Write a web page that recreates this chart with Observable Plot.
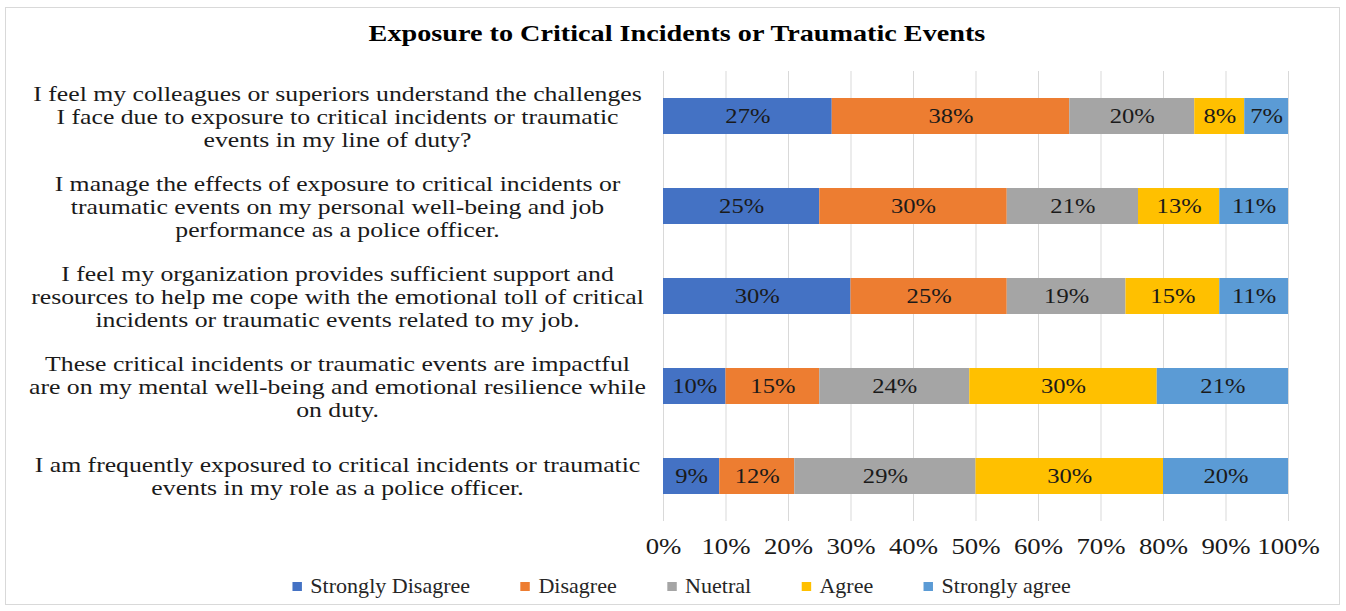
<!DOCTYPE html>
<html><head><meta charset="utf-8">
<script src="https://cdn.jsdelivr.net/npm/d3@7"></script>
<script src="https://cdn.jsdelivr.net/npm/@observablehq/plot@0.6"></script>
<style>
body{margin:0;background:#fff;font-family:"Liberation Serif","Times New Roman",serif;}
#wrap{position:relative;width:1346px;height:611px;overflow:hidden;}
#frame{position:absolute;left:5px;top:7px;width:1335px;height:598px;border:1px solid #d9d9d9;box-sizing:border-box;}
#title{position:absolute;left:0;width:1354px;top:20px;text-align:center;}
#title span{display:inline-block;font-weight:bold;font-size:23.5px;color:#000;transform:scaleX(1.2);transform-origin:50% 50%;}
#chart{position:absolute;left:0;top:55px;}
#legend{position:absolute;left:0;width:1364px;top:574px;text-align:center;white-space:nowrap;}
#legend .inner{display:inline-block;font-size:21px;color:#262626;transform:scaleX(1.05);transform-origin:50% 50%;}
#legend .item{display:inline-block;margin:0 24px;}
#legend .sw{display:inline-block;width:9px;height:9px;margin-right:8px;vertical-align:middle;position:relative;top:-2px;}
</style></head>
<body>
<div id="wrap">
  <div id="frame"></div>
  <div id="title"><span>Exposure to Critical Incidents or Traumatic Events</span></div>
  <div id="chart"></div>
  <div id="legend"><div class="inner"></div></div>
</div>
<script>
const categories = ["Strongly Disagree", "Disagree", "Nuetral", "Agree", "Strongly agree"];
const colors = ["#4472C4", "#ED7D31", "#A5A5A5", "#FFC000", "#5B9BD5"];
const questions = [
  "I feel my colleagues or superiors understand the challenges\nI face due to exposure to critical incidents or traumatic\nevents in my line of duty?",
  "I manage the effects of exposure to critical incidents or\ntraumatic events on my personal well-being and job\nperformance as a police officer.",
  "I feel my organization provides sufficient support and\nresources to help me cope with the emotional toll of critical\nincidents or traumatic events related to my job.",
  "These critical incidents or traumatic events are impactful\nare on my mental well-being and emotional resilience while\non duty.",
  "I am frequently exposured to critical incidents or traumatic\nevents in my role as a police officer."
];
const stronglyDisagree = [27, 25, 30, 10, 9];
const disagree = [38, 30, 25, 15, 12];
const nuetral = [20, 21, 19, 24, 29];
const agree = [8, 13, 15, 30, 30];
const stronglyAgree = [7, 11, 11, 21, 20];
const xTicks = [0, 10, 20, 30, 40, 50, 60, 70, 80, 90, 100];

const seriesValues = [stronglyDisagree, disagree, nuetral, agree, stronglyAgree];
const rows = [];
questions.forEach((q, i) => {
  categories.forEach((c, j) => rows.push({q, cat: c, value: seriesValues[j][i]}));
});

const chart = Plot.plot({
  width: 1346,
  height: 515,
  marginLeft: 663,
  marginRight: 58,
  marginTop: 16,
  marginBottom: 49,
  style: {fontFamily: "'Liberation Serif', 'Times New Roman', serif", color: "#262626", background: "transparent"},
  x: {domain: [0, 100], label: null},
  y: {domain: questions, paddingInner: 0.6, paddingOuter: 0.3, label: null},
  color: {domain: categories, range: colors},
  marks: [
    Plot.gridX(xTicks, {stroke: "#d9d9d9", strokeOpacity: 1, strokeWidth: 1}),
    Plot.barX(rows, Plot.stackX({x: "value", y: "q", fill: "cat", order: categories})),
    Plot.text(rows, Plot.stackX({x: "value", y: "q", z: "cat", order: categories,
      text: d => d.value + "%", fontSize: 21, fill: "#1a1a1a", className: "barvals"})),
    Plot.axisX(xTicks, {tickSize: 0, tickPadding: 16, fontSize: 23.5, tickFormat: d => d + "%", label: null, fill: "#1a1a1a"}),
    Plot.axisY({tickSize: 0, tickPadding: 0, textAnchor: "middle", dx: -326, fontSize: 20.5, lineHeight: 1.12,
      lineWidth: 1000, label: null, fill: "#1a1a1a", tickFormat: d => d})
  ]
});
document.getElementById("chart").appendChild(chart);

// the reference's lettering is horizontally widened; widen the glyphs around each anchor
function widen(selector, s) {
  chart.querySelectorAll(selector).forEach(t => {
    t.setAttribute("transform", (t.getAttribute("transform") || "") + ` scale(${s},1)`);
  });
}
widen('g[aria-label="y-axis tick label"] text', 1.255);
widen('g[aria-label="x-axis tick label"] text', 1.14);
widen('g.barvals text', 1.17);

const legend = document.querySelector("#legend .inner");
categories.forEach((c, i) => {
  const item = document.createElement("span");
  item.className = "item";
  const sw = document.createElement("span");
  sw.className = "sw";
  sw.style.background = colors[i];
  item.appendChild(sw);
  item.appendChild(document.createTextNode(c));
  legend.appendChild(item);
});
</script>
</body></html>
